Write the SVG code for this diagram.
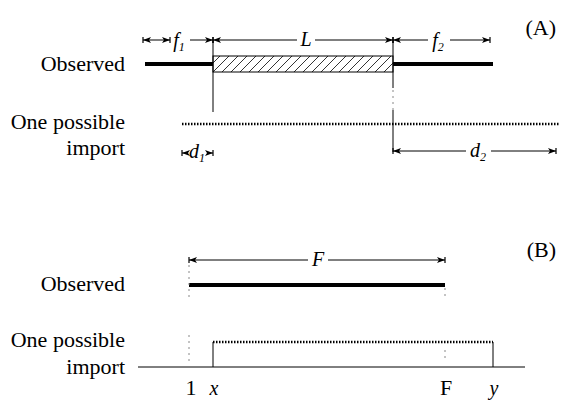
<svg xmlns="http://www.w3.org/2000/svg" width="563" height="405" viewBox="0 0 563 405">
<style>
.lbl{font-family:"Liberation Serif","DejaVu Serif",serif;font-size:22px;fill:#000}
.it{font-family:"Liberation Serif","DejaVu Serif",serif;font-style:italic;font-size:20px;fill:#000}
.sub{font-size:12px}
.thin{stroke:#000;stroke-width:1;fill:none}
.thick{stroke:#000;stroke-width:4;fill:none}
.dot{stroke:#000;stroke-width:2.5;stroke-dasharray:1.5 1.5;fill:none}
.guide{stroke:#888;stroke-width:1;stroke-dasharray:2 4;fill:none}
.arr{stroke:#000;stroke-width:1;fill:none;marker-end:url(#ah);marker-start:url(#ah)}
</style>
<defs>
<marker id="ah" markerUnits="userSpaceOnUse" markerWidth="10" markerHeight="10" refX="8" refY="4" orient="auto-start-reverse">
<path d="M0,1 L8,4 L0,7 L2,4 z" fill="#000"/>
<path d="M8,1 L8,7" stroke="#000" stroke-width="1.2"/>
</marker>
<pattern id="hatch" patternUnits="userSpaceOnUse" width="9" height="16" x="213" y="56">
<path d="M-9,16 L7,0 M0,16 L16,0" stroke="#000" stroke-width="0.8"/>
</pattern>
</defs>

<g id="labels">
<text class="lbl" x="125" y="71" text-anchor="end">Observed</text>
<text class="lbl" x="125" y="129" text-anchor="end">One possible</text>
<text class="lbl" x="125" y="155" text-anchor="end">import</text>
<text class="lbl" x="556" y="35" text-anchor="end" font-size="24">(A)</text>
<text class="lbl" x="125" y="291" text-anchor="end">Observed</text>
<text class="lbl" x="125" y="347" text-anchor="end">One possible</text>
<text class="lbl" x="125" y="374" text-anchor="end">import</text>
<text class="lbl" x="556" y="257" text-anchor="end" font-size="24">(B)</text>
</g>

<g id="panelA">
<rect x="213" y="56" width="180" height="16" fill="url(#hatch)" stroke="#000" stroke-width="1"/>
<line class="thick" x1="145" y1="64" x2="213" y2="64"/>
<line class="thick" x1="393" y1="64" x2="493" y2="64"/>
<line class="thin" x1="213" y1="40" x2="213" y2="112"/>
<line class="thin" x1="393" y1="40" x2="393" y2="88"/>
<line class="guide" x1="393" y1="90" x2="393" y2="110"/>
<line class="thin" x1="393" y1="110" x2="393" y2="152"/>
<line class="dot" x1="182" y1="124" x2="559" y2="124"/>
</g>

<g id="panelB">
<line class="thick" x1="189" y1="285" x2="445" y2="285"/>
<line class="guide" x1="189" y1="265" x2="189" y2="300"/>
<line class="guide" x1="189" y1="335" x2="189" y2="362"/>
<line class="guide" x1="445" y1="288" x2="445" y2="300"/>
<line class="guide" x1="445" y1="350" x2="445" y2="362"/>
<line class="thin" x1="138" y1="367" x2="525" y2="367"/>
<path class="thin" d="M213,367 V342"/>
<path class="thin" d="M493,367 V342"/>
<line class="dot" x1="213" y1="342" x2="493" y2="342"/>
<text class="lbl" x="191" y="395" text-anchor="middle" font-size="21">1</text>
<text class="it" x="214" y="395" text-anchor="middle" font-size="21">x</text>
<text class="lbl" x="446" y="395" text-anchor="middle" font-size="21">F</text>
<text class="it" x="494" y="395" text-anchor="middle" font-size="21">y</text>
</g>

<g id="connectors">
<path class="arr" d="M143,40 H170"/>
<path class="thin" d="M190,40 H213" marker-end="url(#ah)"/>
<path class="thin" d="M213,40 H297" marker-start="url(#ah)"/>
<path class="thin" d="M315,40 H393" marker-end="url(#ah)"/>
<path class="thin" d="M393,40 H428" marker-start="url(#ah)"/>
<path class="thin" d="M450,40 H490" marker-end="url(#ah)"/>
<path class="thin" d="M182,153 H188" marker-start="url(#ah)"/>
<path class="thin" d="M207,153 H213" marker-end="url(#ah)"/>
<path class="thin" d="M393,151 H466" marker-start="url(#ah)"/>
<path class="thin" d="M491,151 H556" marker-end="url(#ah)"/>
<path class="thin" d="M189,260 H308" marker-start="url(#ah)"/>
<path class="thin" d="M328,260 H445" marker-end="url(#ah)"/>
</g>

<g id="arrow-labels">
<text class="it" x="179" y="47" text-anchor="middle">f<tspan class="sub" dy="4">1</tspan></text>
<text class="it" x="306" y="46" text-anchor="middle">L</text>
<text class="it" x="438" y="47" text-anchor="middle">f<tspan class="sub" dy="4">2</tspan></text>
<text class="it" x="197" y="158" text-anchor="middle">d<tspan class="sub" dy="4">1</tspan></text>
<text class="it" x="478" y="157" text-anchor="middle">d<tspan class="sub" dy="4">2</tspan></text>
<text class="it" x="318" y="266" text-anchor="middle">F</text>
</g>
</svg>
